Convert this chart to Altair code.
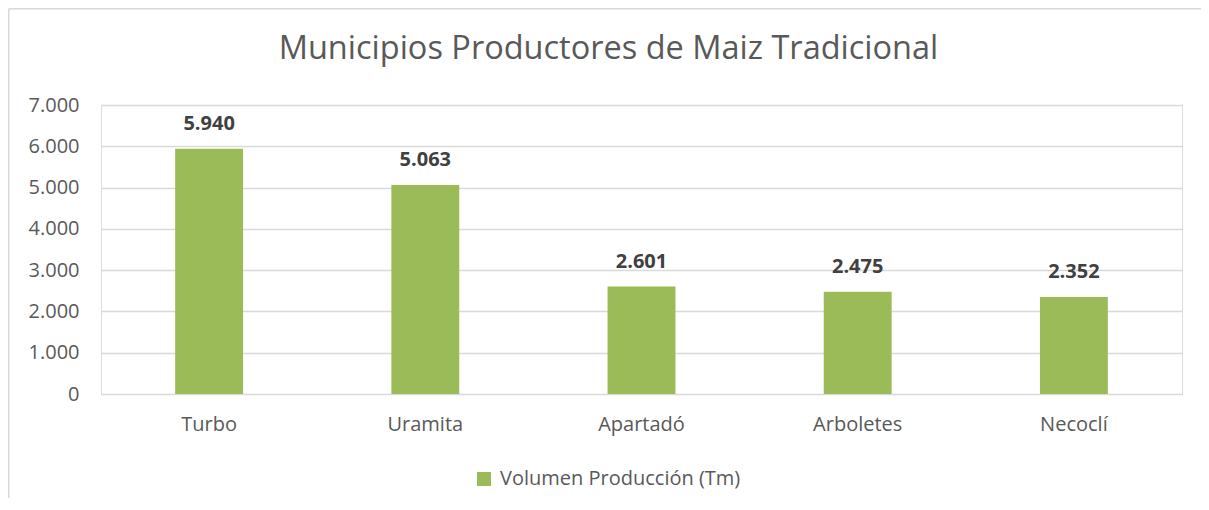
import altair as alt
import pandas as pd

municipios = ["Turbo", "Uramita", "Apartadó", "Arboletes", "Necoclí"]
volumen = [5940, 5063, 2601, 2475, 2352]
serie = "Volumen Producción (Tm)"
titulo = "Municipios Productores de Maiz Tradicional"

df = pd.DataFrame({"municipio": municipios, "volumen": volumen, "serie": [serie] * len(municipios)})

FONT = "Open Sans"
GRID = "#d9d9d9"

x_enc = alt.X(
    "municipio:N",
    sort=municipios,
    title=None,
    scale=alt.Scale(paddingInner=0.686, paddingOuter=0.343),
    axis=alt.Axis(labelAngle=0, labelFontSize=20, labelColor="#595959", labelFont=FONT,
                  ticks=False, domain=False, labelPadding=20),
)
y_enc = alt.Y(
    "volumen:Q",
    title=None,
    scale=alt.Scale(domain=[0, 7000]),
    axis=alt.Axis(values=[0, 1000, 2000, 3000, 4000, 5000, 6000, 7000],
                  labelExpr="replace(format(datum.value, ','), ',', '.')",
                  labelFontSize=20, labelColor="#595959", labelFont=FONT,
                  ticks=False, domain=False, labelPadding=22,
                  grid=True, gridColor=GRID, gridWidth=1.5),
)

bars = alt.Chart(df).mark_bar(color="#9BBB59").encode(
    x=x_enc,
    y=y_enc,
    color=alt.Color("serie:N", scale=alt.Scale(range=["#9BBB59"]),
                    legend=alt.Legend(title=None, orient="none", legendX=373, legendY=364,
                                      symbolType="square", symbolSize=196, symbolStrokeWidth=0,
                                      labelFontSize=20, labelColor="#595959", labelFont=FONT,
                                      labelLimit=0, padding=0, symbolOffset=0, labelOffset=6)),
)

labels = alt.Chart(df).transform_calculate(
    etiqueta="replace(format(datum.volumen, ','), ',', '.')"
).mark_text(fontSize=20, fontWeight="bold", color="#404040", font=FONT,
            baseline="middle", dy=-25).encode(
    x=alt.X("municipio:N", sort=municipios),
    y="volumen:Q",
    text="etiqueta:N",
)

border_df = pd.DataFrame({"k": [0]})
border_left = alt.Chart(border_df).mark_rule(color=GRID, strokeWidth=1.5).encode(
    x=alt.value(-92.25), y=alt.value(-96.25), y2=alt.value(400)
)
border_top = alt.Chart(border_df).mark_rule(color=GRID, strokeWidth=1.5).encode(
    x=alt.value(-92.25), x2=alt.value(1105), y=alt.value(-96.25)
)

chart = alt.layer(border_left, border_top, bars, labels).properties(
    width=1081,
    height=289,
    autosize=alt.AutoSizeParams(type="none"),
    padding={"left": 93, "top": 97, "right": 19, "bottom": 104},
    title=alt.Title(titulo, fontSize=32.5, font=FONT, color="#595959", fontWeight="normal",
                    anchor="middle", frame="group", dx=-33, offset=-90, baseline="bottom"),
).configure_view(stroke=None).configure(font=FONT)

chart.save("out.html", embed_options={"renderer": "svg", "actions": False})
